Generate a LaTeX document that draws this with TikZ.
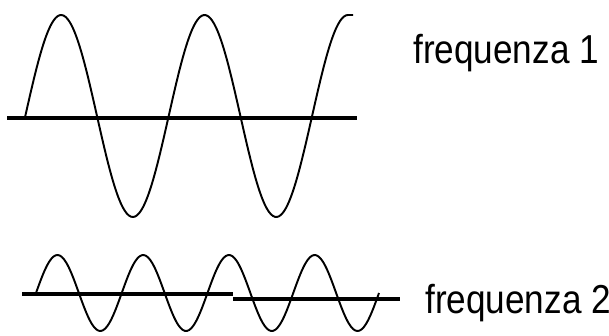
\documentclass[tikz,border=0pt]{standalone}
\usepackage{fontspec}
\setmainfont{Liberation Sans}
\tikzset{
    axis_line/.style={draw=black, line width=2.1pt},
    wave_line/.style={draw=black, line width=1.1pt, smooth, samples=160},
    freq_lbl/.style={anchor=base west, inner sep=0pt, yscale=1.15, font=\fontsize{20}{24}\selectfont}
}
\begin{document}
\begin{tikzpicture}[x=0.02cm, y=-0.02cm]
    \useasboundingbox (0,0) rectangle (609,335);

    % frequenza 1
    \draw[axis_line] (7,118) -- (357,118);
    \draw[wave_line] plot[domain=25.3:348] (\x, {116 - 101*sin((\x-25.3)/143.4*360)}) -- (353,15);
    \node[freq_lbl] (freq_one) at (413,63) {frequenza 1};

    % frequenza 2
    \draw[axis_line] (22,294) -- (233,294);
    \draw[axis_line] (233,299) -- (400,299);
    \draw[wave_line] plot[domain=36:379] (\x, {293 - 38*sin((\x-36)/85.75*360)});
    \node[freq_lbl] (freq_two) at (425,313) {frequenza 2};

\end{tikzpicture}
\end{document}
